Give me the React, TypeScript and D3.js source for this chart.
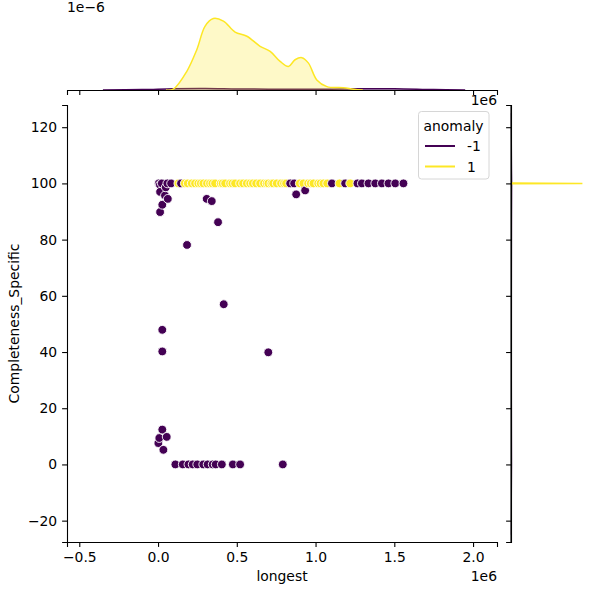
import React, { useRef, useEffect } from 'react';
import * as d3 from 'd3';

// anomaly = -1 (outliers)
const outlierLongest = [
  24000, 59000, 83000, 146000, 839000, 864000, 1104000, 1188000, 1266000, 1294000,
  1336000, 1379000, 1421000, 1463000, 1506000, 1558000, 5000, 12000,
  49000, 13000, 44000, 62000, 27000, 13000, 309000, 341000, 381000, 184000,
  417000, 27000, 27000, 700000, 877000, 934000,
  27000, 8000, 55000, 2000, 34000,
  110000, 157000, 193000, 220000, 249000, 287000, 315000, 347000, 366000, 405000,
  475000, 521000, 792000,
];
const outlierCompleteness = [
  100, 100, 100, 100, 100, 100, 100, 100, 100, 100,
  100, 100, 100, 100, 100, 100, 100, 99.5,
  98.6, 97, 95.7, 94.5, 92.4, 89.8, 94.5, 93.7, 86.2, 78.1,
  57.0, 47.9, 40.2, 39.9, 96.1, 97.5,
  12.4, 9.4, 9.8, 7.6, 5.2,
  0, 0, 0, 0, 0, 0, 0, 0, 0, 0,
  0, 0, 0,
];

// anomaly = 1 (all at 100)
const normalLongest = [
  129000, 170000, 189000, 214000, 235000, 256000, 272000, 288000, 311000, 330000,
  345000, 362000, 398000, 410000, 426000, 457000, 472000, 489000, 521000, 540000,
  564000, 585000, 602000, 623000, 648000, 673000, 690000, 701000, 720000, 731000,
  754000, 781000, 800000, 813000, 900000, 923000, 953000, 970000, 987000, 1017000,
  1032000, 1050000, 1074000, 1152000, 1220000,
];
const normalCompleteness = normalLongest.map(() => 100);

// marginal densities (x in units, density in 1e-6)
const topNormalX = [0.05e6, 0.097e6, 0.182e6, 0.246e6, 0.299e6, 0.351e6, 0.415e6, 0.489e6, 0.564e6, 0.648e6,
  0.712e6, 0.775e6, 0.828e6, 0.870e6, 0.913e6, 0.955e6, 1.008e6, 1.072e6, 1.177e6, 1.241e6, 1.3e6];
const topNormalDensity = [0, 0.02, 0.44, 0.96, 1.52, 1.70, 1.64, 1.38, 1.28, 1.04,
  0.92, 0.68, 0.56, 0.72, 0.77, 0.64, 0.24, 0.08, 0.055, 0.02, 0];
const topOutlierX = [-0.35e6, -0.1e6, 0.1e6, 0.3e6, 0.5e6, 0.7e6, 0.9e6, 1.1e6, 1.3e6, 1.5e6, 1.75e6, 1.95e6];
const topOutlierDensity = [0, 0.01, 0.03, 0.035, 0.025, 0.02, 0.015, 0.02, 0.03, 0.03, 0.01, 0];

const rightNormalY = [99.85, 100, 100.15];
const rightNormalDensity = [0, 1, 0];
const rightOutlierY = [-25, -10, 0, 10, 30, 50, 70, 90, 100, 110, 125];
const rightOutlierDensity = [0, 0.008, 0.015, 0.012, 0.008, 0.008, 0.01, 0.015, 0.018, 0.01, 0];

const xTicks = [-0.5e6, 0, 0.5e6, 1e6, 1.5e6, 2e6];
const yTicks = [-20, 0, 20, 40, 60, 80, 100, 120];

const purple = '#440154';
const yellow = '#fde725';
const font = 'DejaVu Sans, sans-serif';
const fs = 13.9;

const minus = (s: string) => s.replace('-', '\u2212');

const App: React.FC = () => {
  const svgRef = useRef<SVGSVGElement | null>(null);

  useEffect(() => {
    const svg = d3.select(svgRef.current);
    svg.selectAll('*').remove();

    const left = 67, right = 497, top = 105, bottom = 542;
    const x = d3.scaleLinear().domain([-0.578e6, 2.152e6]).range([left, right]);
    const y = d3.scaleLinear().domain([-27.6, 127.9]).range([bottom, top]);

    // top marginal
    const topY = d3.scaleLinear().domain([0, 1.70 * 1.05]).range([90, 15]);
    // right marginal
    const rightX = d3.scaleLinear().domain([0, 1.05]).range([511, 586]);

    // top marginal densities
    const topArea = d3.area<[number, number]>()
      .x(d => x(d[0])).y0(topY(0)).y1(d => topY(d[1])).curve(d3.curveCatmullRom);
    const topLine = d3.line<[number, number]>()
      .x(d => x(d[0])).y(d => topY(d[1])).curve(d3.curveCatmullRom);
    const topSeries: [number[], number[], string][] = [
      [topOutlierX, topOutlierDensity, purple],
      [topNormalX, topNormalDensity, yellow],
    ];
    topSeries.forEach(([xs, ds, c]) => {
      const pts = xs.map((v, i) => [v, ds[i]] as [number, number]);
      svg.append('path').attr('d', topArea(pts)).attr('fill', c).attr('fill-opacity', 0.25);
      svg.append('path').attr('d', topLine(pts)).attr('fill', 'none').attr('stroke', c).attr('stroke-width', 1.5);
    });

    // right marginal densities
    const rArea = d3.area<[number, number]>()
      .y(d => y(d[0])).x0(rightX(0)).x1(d => rightX(d[1])).curve(d3.curveLinear);
    const rLine = d3.line<[number, number]>()
      .y(d => y(d[0])).x(d => rightX(d[1])).curve(d3.curveLinear);
    const rightSeries: [number[], number[], string][] = [
      [rightOutlierY, rightOutlierDensity, purple],
      [rightNormalY, rightNormalDensity, yellow],
    ];
    rightSeries.forEach(([ys, ds, c]) => {
      const pts = ys.map((v, i) => [v, ds[i]] as [number, number]);
      svg.append('path').attr('d', rArea(pts)).attr('fill', c).attr('fill-opacity', 0.25);
      svg.append('path').attr('d', rLine(pts)).attr('fill', 'none').attr('stroke', c)
        .attr('stroke-width', c === purple ? 1 : 1.5).attr('stroke-opacity', c === purple ? 0.3 : 1);
    });

    const styleAxis = (g: d3.Selection<SVGGElement, unknown, null, undefined>) => {
      g.selectAll('path.domain').attr('stroke', '#000').attr('stroke-width', 1.1);
      g.selectAll('.tick line').attr('stroke', '#000').attr('stroke-width', 1.1);
      g.selectAll('text').attr('font-family', font).attr('font-size', fs).attr('fill', '#000');
      g.attr('font-family', font).attr('font-size', fs);
    };

    // main x axis
    const gx = svg.append('g').attr('transform', `translate(0,${bottom})`)
      .call(d3.axisBottom(x).tickValues(xTicks).tickSizeOuter(0).tickSize(4.9).tickPadding(4.9)
        .tickFormat(d => minus(d3.format('.1f')(Number(d) / 1e6))));
    styleAxis(gx);

    // main y axis
    const gy = svg.append('g').attr('transform', `translate(${left},0)`)
      .call(d3.axisLeft(y).tickValues(yTicks).tickSizeOuter(0).tickSize(4.9).tickPadding(4.9)
        .tickFormat(d => minus(String(d))));
    styleAxis(gy);

    // top marginal axis (ticks, no labels)
    const gt = svg.append('g').attr('transform', `translate(0,90)`)
      .call(d3.axisBottom(x).tickValues(xTicks).tickSizeOuter(0).tickSize(4.9).tickFormat(() => ''));
    styleAxis(gt);

    // right marginal axis
    const gr = svg.append('g').attr('transform', `translate(511,0)`)
      .call(d3.axisLeft(y).tickValues(yTicks).tickSizeOuter(0).tickSize(4.9).tickFormat(() => ''));
    styleAxis(gr);
    svg.append('line').attr('x1', 511).attr('x2', 511).attr('y1', top).attr('y2', bottom)
      .attr('stroke', '#000').attr('stroke-width', 1.1);

    // scatter
    const points = [
      ...outlierLongest.map((v, i) => ({ x: v, y: outlierCompleteness[i], c: purple })),
      ...normalLongest.map((v, i) => ({ x: v, y: normalCompleteness[i], c: yellow })),
    ].sort((a, b) => a.x - b.x);
    svg.append('g').selectAll('circle')
      .data(points)
      .enter()
      .append('circle')
      .attr('cx', d => x(d.x))
      .attr('cy', d => y(d.y))
      .attr('r', 4.4)
      .attr('fill', d => d.c)
      .attr('stroke', '#fff')
      .attr('stroke-width', 0.9);

    // labels
    svg.append('text')
      .attr('x', (left + right) / 2).attr('y', 581)
      .attr('text-anchor', 'middle').attr('font-family', font).attr('font-size', fs)
      .text('longest');
    svg.append('text')
      .attr('transform', `translate(19,${(top + bottom) / 2}) rotate(-90)`)
      .attr('text-anchor', 'middle').attr('font-family', font).attr('font-size', fs)
      .text('Completeness_Specific');
    svg.append('text')
      .attr('x', right).attr('y', 581)
      .attr('text-anchor', 'end').attr('font-family', font).attr('font-size', fs)
      .text('1e6');
    svg.append('text')
      .attr('x', right).attr('y', 105)
      .attr('text-anchor', 'end').attr('font-family', font).attr('font-size', fs)
      .text('1e6');
    svg.append('text')
      .attr('x', left).attr('y', 12)
      .attr('font-family', font).attr('font-size', fs)
      .text('1e\u22126');

    // legend
    const lg = svg.append('g');
    lg.append('rect')
      .attr('x', 418.5).attr('y', 111.5).attr('width', 70.5).attr('height', 67.5)
      .attr('rx', 3).attr('fill', '#fff').attr('fill-opacity', 0.8)
      .attr('stroke', '#d6d6d6').attr('stroke-width', 1);
    lg.append('text')
      .attr('x', 453.5).attr('y', 130.5)
      .attr('text-anchor', 'middle').attr('font-family', font).attr('font-size', fs)
      .text('anomaly');
    const entries: [string, string][] = [['-1', purple], ['1', yellow]];
    entries.forEach(([label, c], i) => {
      const ly = 146 + i * 20.5;
      lg.append('line').attr('x1', 425).attr('x2', 455).attr('y1', ly).attr('y2', ly)
        .attr('stroke', c).attr('stroke-width', 2);
      lg.append('text').attr('x', 467).attr('y', ly + 5)
        .attr('font-family', font).attr('font-size', fs)
        .text(label);
    });
  }, []);

  return (
    <svg ref={svgRef} width={600} height={600} style={{ position: 'absolute', left: 0, top: 0, background: '#fff' }} />
  );
};

export default App;
